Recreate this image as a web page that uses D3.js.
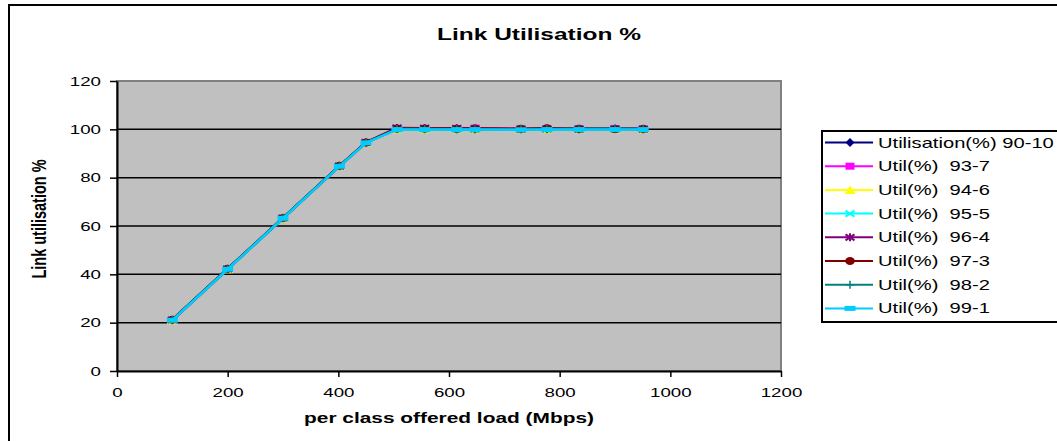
<!DOCTYPE html>
<html>
<head>
<meta charset="utf-8">
<script src="https://cdn.jsdelivr.net/npm/d3@7"></script>
<style>
  html, body { margin: 0; padding: 0; background: #fff; overflow: hidden; }
  svg { display: block; font-family: "Liberation Sans", Arial, sans-serif; }
</style>
</head>
<body>
<svg id="chart" width="1057" height="441"></svg>
<script>
// Offered load per class (Mbps)
const load = [100, 200, 300, 402, 450, 506, 556, 614, 647, 730, 777, 835, 900, 951];

// Link utilisation (%) per traffic split
const util90_10 = [21.1, 42.2, 63.3, 84.8, 94.5, 100.2, 100.1, 100.1, 100.1, 100.0, 100.1, 100.0, 100.1, 100.0];
const util93_7  = [21.0, 42.1, 63.2, 84.7, 94.4, 100.3, 100.2, 100.3, 100.5, 100.2, 100.1, 100.2, 100.3, 100.1];
const util94_6  = [21.0, 42.1, 63.2, 84.7, 94.4, 100.0, 100.0, 100.0, 100.0, 100.0, 100.0, 100.0, 100.0, 100.0];
const util95_5  = [21.1, 42.2, 63.2, 84.8, 94.5, 100.0, 100.0, 99.9, 100.0, 99.9, 100.0, 99.9, 100.0, 100.0];
const util96_4  = [21.1, 42.2, 63.3, 84.8, 94.6, 100.6, 100.5, 100.4, 100.2, 100.1, 100.2, 100.1, 100.2, 100.1];
const util97_3  = [21.2, 42.3, 63.3, 84.9, 94.6, 100.3, 100.3, 100.2, 100.3, 100.2, 100.4, 100.2, 100.1, 100.2];
const util98_2  = [21.1, 42.2, 63.3, 84.8, 94.5, 100.1, 100.1, 100.0, 100.0, 100.1, 100.1, 100.2, 100.3, 100.1];
const util99_1  = [21.0, 42.1, 63.2, 84.7, 94.4, 99.9, 99.9, 99.9, 99.9, 99.8, 99.9, 99.9, 99.9, 99.9];

const seriesNames = ["Utilisation(%) 90-10", "Util(%)  93-7", "Util(%)  94-6", "Util(%)  95-5",
                     "Util(%)  96-4", "Util(%)  97-3", "Util(%)  98-2", "Util(%)  99-1"];
const seriesValues = [util90_10, util93_7, util94_6, util95_5, util96_4, util97_3, util98_2, util99_1];
const seriesColors = ["#000080", "#FF00FF", "#FFFF00", "#00FFFF", "#800080", "#800000", "#008080", "#00CCFF"];
const seriesMarkers = ["diamond", "square", "triangle", "cross", "star", "circle", "plus", "dash"];

const xTicks = [0, 200, 400, 600, 800, 1000, 1200];
const yTicks = [0, 20, 40, 60, 80, 100, 120];

const titleText = "Link Utilisation %";
const xTitle = "per class offered load (Mbps)";
const yTitle = "Link utilisation %";

// Text is drawn horizontally widened
const SX = 1.44;

const svg = d3.select("#chart");

const plot = { left: 117, right: 781, top: 81, bottom: 371 };
const x = d3.scaleLinear().domain([0, 1200]).range([plot.left, plot.right]);
const y = d3.scaleLinear().domain([0, 120]).range([plot.bottom, plot.top]);

// chart frame
svg.append("rect").attr("x", 9).attr("y", 5).attr("width", 1060).attr("height", 445)
  .attr("fill", "#fff").attr("stroke", "#000").attr("stroke-width", 2);

function wideText(parent, tx, ty, str, size, weight, anchor, rotate) {
  const g = parent.append("g")
    .attr("transform", `translate(${tx},${ty}) scale(${SX},1)` + (rotate ? ` rotate(${rotate})` : ""));
  return g.append("text").attr("x", 0).attr("y", 0)
    .attr("font-size", size).attr("font-weight", weight || "normal")
    .attr("text-anchor", anchor || "start").attr("fill", "#000").text(str);
}

// title
wideText(svg, 539, 40, titleText, 17, "bold", "middle");

// plot background
svg.append("rect").attr("x", plot.left).attr("y", plot.top)
  .attr("width", plot.right - plot.left).attr("height", plot.bottom - plot.top)
  .attr("fill", "#C0C0C0").attr("stroke", "#808080").attr("stroke-width", 2);

// gridlines
svg.append("g").selectAll("line").data(yTicks.filter(v => v > 0 && v < 120)).join("line")
  .attr("x1", plot.left).attr("x2", plot.right)
  .attr("y1", d => y(d)).attr("y2", d => y(d))
  .attr("stroke", "#000").attr("stroke-width", 1.5);

// y axis
const yAxis = svg.append("g").attr("transform", `translate(${plot.left},0)`)
  .call(d3.axisLeft(y).tickValues(yTicks).tickFormat(d3.format("d")).tickSize(7).tickSizeOuter(0));
yAxis.select(".domain").attr("stroke", "#000").attr("stroke-width", 2);
yAxis.selectAll(".tick line").attr("stroke", "#000").attr("stroke-width", 1.5);
yAxis.selectAll(".tick text")
  .attr("x", -16 / SX).attr("transform", `scale(${SX},1)`)
  .attr("font-size", 13).attr("font-family", "Liberation Sans, Arial, sans-serif").attr("fill", "#000");

// x axis
const xAxis = svg.append("g").attr("transform", `translate(0,${plot.bottom})`)
  .call(d3.axisBottom(x).tickValues(xTicks).tickFormat(d3.format("d")).tickSize(6).tickSizeOuter(0));
xAxis.select(".domain").attr("stroke", "#000").attr("stroke-width", 2);
xAxis.selectAll(".tick line").attr("stroke", "#000").attr("stroke-width", 1.5);
xAxis.selectAll(".tick text")
  .attr("y", 17).attr("transform", `scale(${SX},1)`)
  .attr("font-size", 13).attr("font-family", "Liberation Sans, Arial, sans-serif").attr("fill", "#000");

// axis titles
wideText(svg, 449, 423, xTitle, 14.5, "bold", "middle");
wideText(svg, 46, 219, yTitle, 14.5, "bold", "middle", -90);

// marker shapes, sizes in screen pixels
function marker(parent, type, color, cx, cy) {
  const g = parent.append("g").attr("transform", `translate(${cx},${cy})`);
  switch (type) {
    case "diamond":
      g.append("path").attr("d", "M0,-4.5L4.5,0L0,4.5L-4.5,0Z").attr("fill", color);
      break;
    case "square":
      g.append("rect").attr("x", -4.5).attr("y", -3.5).attr("width", 9).attr("height", 7)
        .attr("fill", color);
      break;
    case "triangle":
      g.append("path").attr("d", "M0,-4.5L5.5,4L-5.5,4Z").attr("fill", color);
      break;
    case "cross":
      g.append("path").attr("d", "M-4.5,-3L4.5,3M-4.5,3L4.5,-3")
        .attr("stroke", color).attr("stroke-width", 2).attr("fill", "none");
      break;
    case "star":
      g.append("path").attr("d", "M-4.5,-3L4.5,3M-4.5,3L4.5,-3M0,-4L0,4")
        .attr("stroke", color).attr("stroke-width", 2).attr("fill", "none");
      break;
    case "circle":
      g.append("ellipse").attr("rx", 4.8).attr("ry", 4).attr("fill", color);
      break;
    case "plus":
      g.append("path").attr("d", "M-4.5,0L4.5,0M0,-4L0,4")
        .attr("stroke", color).attr("stroke-width", 1.5).attr("fill", "none");
      break;
    case "dash":
      g.append("rect").attr("x", -5.5).attr("y", -2.5).attr("width", 11).attr("height", 5)
        .attr("fill", color);
      break;
  }
}

// series lines and markers
const line = d3.line().x((d, i) => x(load[i])).y(d => y(d));
const seriesG = svg.append("g");
seriesValues.forEach((vals, s) => {
  seriesG.append("path").datum(vals).attr("d", line)
    .attr("fill", "none").attr("stroke", seriesColors[s]).attr("stroke-width", 2.5)
    .attr("stroke-linejoin", "round");
  vals.forEach((v, i) => marker(seriesG, seriesMarkers[s], seriesColors[s], x(load[i]), y(v)));
});

// legend
const legend = svg.append("g");
legend.append("rect").attr("x", 822).attr("y", 131).attr("width", 260).attr("height", 191)
  .attr("fill", "#fff").attr("stroke", "#000").attr("stroke-width", 2);
seriesNames.forEach((name, s) => {
  const ly = 142.5 + s * 23.7;
  legend.append("line").attr("x1", 825).attr("x2", 873).attr("y1", ly).attr("y2", ly)
    .attr("stroke", seriesColors[s]).attr("stroke-width", 2);
  marker(legend, seriesMarkers[s], seriesColors[s], 850, ly);
  wideText(legend, 878, ly + 5, name, 14, "normal", "start").attr("xml:space", "preserve")
    .style("white-space", "pre");
});
</script>
</body>
</html>
